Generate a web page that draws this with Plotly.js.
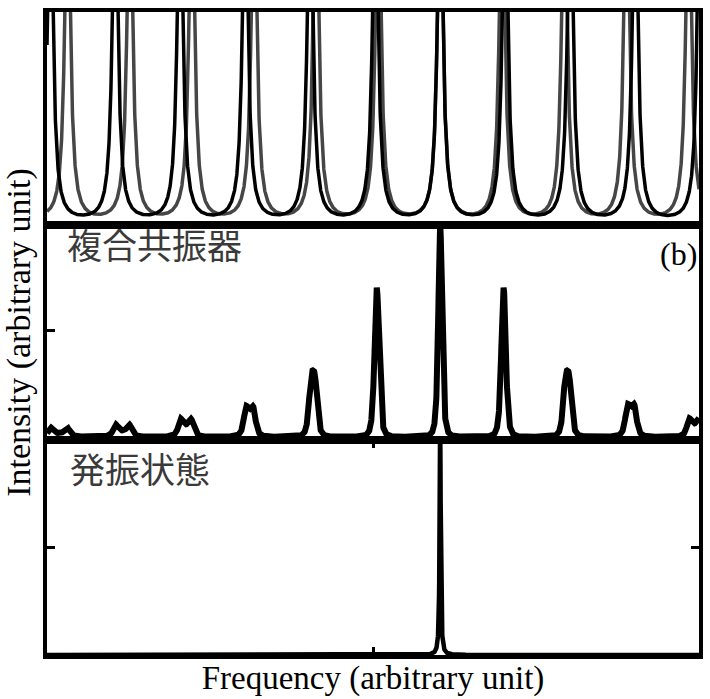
<!DOCTYPE html>
<html>
<head>
<meta charset="utf-8">
<script src="https://cdn.plot.ly/plotly-3.0.1.min.js"></script>
<style>
  html, body { margin: 0; padding: 0; background: #fff; }
  #chart { width: 710px; height: 699px; }
</style>
</head>
<body>
<div id="chart"></div>
<script>
// Resonance frequencies (arbitrary units) of the two ring resonators
const ringAPeaks = [-1.90, 0.10, 2.09, 4.08, 6.08, 8.07, 10.07, 12.06, 14.05, 16.05, 18.04, 20.03];
const ringBPeaks = [-1.28, 0.63, 2.54, 4.44, 6.35, 8.25, 10.16, 12.06, 13.96, 15.87, 17.78, 19.68, 21.59];
const ringHalfWidth = 0.10;

// Oscillating mode
const lasingPeaks = [12.06];
const lasingHalfWidth = 0.02;

// Panel labels
const panelLabels = ['複合共振器', '発振状態'];
const panelTag = '(b)';

// Axis
const freqRange = [0, 20];
const freqTick = [10];

// Lorentzian line shape summed over a set of resonances
function lineShape(x, centers, hw) {
  let s = 0;
  for (const c of centers) {
    const d = (x - c) / hw;
    s += 1 / (1 + d * d);
  }
  return s;
}

const step = 0.005;
const xs = [];
for (let i = 0; i <= Math.round((freqRange[1] - freqRange[0]) / step); i++) {
  xs.push(+(freqRange[0] + i * step).toFixed(4));
}
const ringA = xs.map(x => lineShape(x, ringAPeaks, ringHalfWidth));
const ringB = xs.map(x => lineShape(x, ringBPeaks, ringHalfWidth));
const compound = xs.map((x, i) => ringA[i] * ringB[i]);
const lasing = xs.map(x => lineShape(x, lasingPeaks, lasingHalfWidth));

const traces = [
  { x: xs, y: ringB, xaxis: 'x3', yaxis: 'y3', mode: 'lines',
    line: { color: 'rgb(70,70,70)', width: 3.5 }, hoverinfo: 'skip' },
  { x: xs, y: ringA, xaxis: 'x3', yaxis: 'y3', mode: 'lines',
    line: { color: '#000', width: 3.5 }, hoverinfo: 'skip' },
  { x: xs, y: compound, xaxis: 'x2', yaxis: 'y2', mode: 'lines',
    line: { color: '#000', width: 6 }, hoverinfo: 'skip' },
  { x: xs, y: lasing, xaxis: 'x', yaxis: 'y', mode: 'lines',
    line: { color: '#000', width: 4.5 }, hoverinfo: 'skip' }
];

const H = 643;
const dBottom = [0, 215 / H];
const dMiddle = [215 / H, 430 / H];
const dTop = [430 / H, 1];

const frameX = {
  range: freqRange, showline: true, linewidth: 4, linecolor: '#000',
  showgrid: false, zeroline: false, showticklabels: false, fixedrange: true
};
const frameY = {
  showline: true, linewidth: 4, linecolor: '#000',
  showgrid: false, zeroline: false, showticklabels: false, fixedrange: true
};
const serif = 'Liberation Serif, Times New Roman, serif';
const cjk = 'Noto Sans CJK JP, sans-serif';

const layout = {
  width: 710, height: 699,
  margin: { l: 47, r: 11, t: 12, b: 44 },
  paper_bgcolor: '#fff', plot_bgcolor: '#fff',
  showlegend: false,
  xaxis: Object.assign({}, frameX, {
    anchor: 'y', mirror: 'ticks', ticks: 'inside', tickvals: freqTick,
    ticklen: 8, tickwidth: 3, tickcolor: '#000',
    title: { text: 'Frequency (arbitrary unit)', standoff: 9,
             font: { family: serif, size: 33, color: '#000' } }
  }),
  yaxis: Object.assign({}, frameY, {
    domain: dBottom, anchor: 'x', range: [0, 0.9], mirror: 'ticks',
    ticks: 'inside', tickvals: [0.45], ticklen: 8, tickwidth: 3, tickcolor: '#000'
  }),
  xaxis2: Object.assign({}, frameX, { anchor: 'y2', mirror: true, ticks: '' }),
  yaxis2: Object.assign({}, frameY, {
    domain: dMiddle, anchor: 'x2', range: [-0.015, 1.0], mirror: true,
    ticks: 'inside', tickvals: [0.5], ticklen: 8, tickwidth: 3, tickcolor: '#000',
    title: { text: 'Intensity (arbitrary unit)', standoff: 5,
             font: { family: serif, size: 34, color: '#000' } }
  }),
  xaxis3: Object.assign({}, frameX, { anchor: 'y3', mirror: true, ticks: '' }),
  yaxis3: Object.assign({}, frameY, {
    domain: dTop, anchor: 'x3', range: [-0.005, 0.6], mirror: true, ticks: ''
  }),
  annotations: [
    { text: panelLabels[0], xref: 'x2 domain', yref: 'y2 domain', x: 0.028, y: 1.04,
      xanchor: 'left', yanchor: 'top', showarrow: false,
      font: { family: cjk, size: 35, color: '#3a3a3a' } },
    { text: panelTag, xref: 'x2 domain', yref: 'y2 domain', x: 1.0, y: 0.96,
      xanchor: 'right', yanchor: 'top', showarrow: false,
      font: { family: serif, size: 32, color: '#000' } },
    { text: panelLabels[1], xref: 'x domain', yref: 'y domain', x: 0.032, y: 1.0,
      xanchor: 'left', yanchor: 'top', showarrow: false,
      font: { family: cjk, size: 35, color: '#3a3a3a' } }
  ]
};

Plotly.newPlot('chart', traces, layout, { staticPlot: true, displayModeBar: false });
</script>
</body>
</html>
